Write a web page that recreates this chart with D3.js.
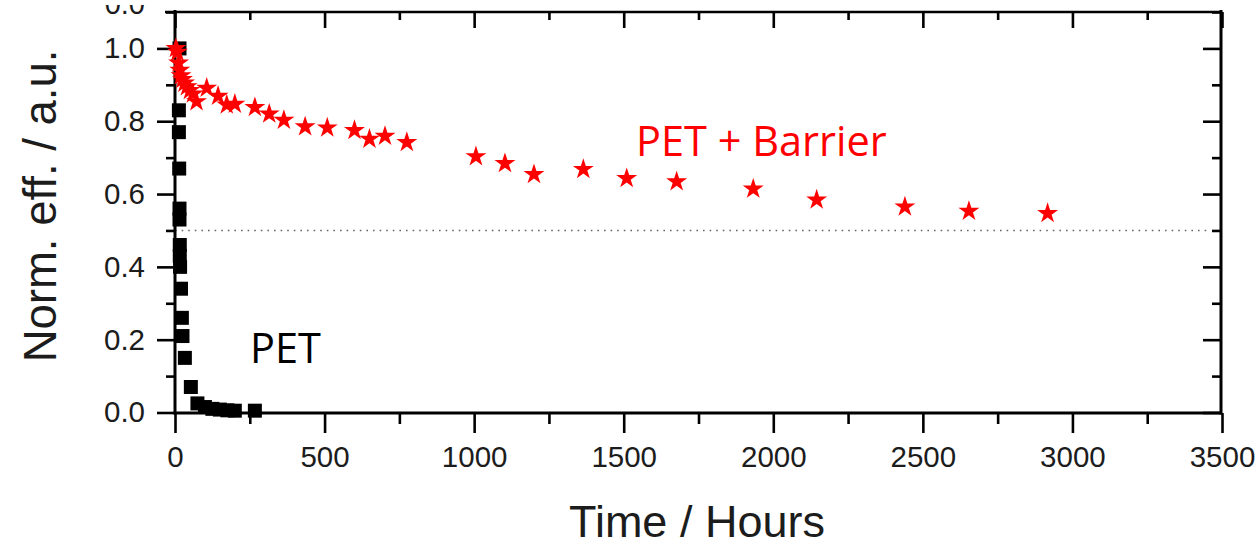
<!DOCTYPE html>
<html>
<head>
<meta charset="utf-8">
<script src="https://cdn.jsdelivr.net/npm/d3@7"></script>
<style>
  html, body { margin: 0; padding: 0; background: #fff; }
  svg { display: block; }
  .tick text { font-family: "Liberation Sans", Arial, sans-serif; }
</style>
</head>
<body>
<svg id="chart" width="1259" height="548"></svg>
<script>
// Normalised efficiency over time, bare PET vs PET with barrier layer
const petHours = [15, 13, 13, 14, 15, 15, 16, 16, 17, 20, 23, 25, 33, 53, 75, 100, 125, 150, 175, 200, 267];
const petEff   = [1.0, 0.83, 0.77, 0.67, 0.56, 0.53, 0.46, 0.43, 0.40, 0.34, 0.26, 0.21, 0.15, 0.07, 0.025, 0.015, 0.01, 0.008, 0.006, 0.005, 0.005];

const barrierHours = [3, 8, 12, 16, 20, 25, 32, 40, 50, 60, 72, 106, 144, 173, 200, 267, 315, 364, 435, 509, 600, 650, 702, 775,
                      1006, 1103, 1200, 1365, 1510, 1677, 1933, 2145, 2440, 2654, 2917];
const barrierEff   = [1.0, 0.99, 0.96, 0.94, 0.925, 0.915, 0.905, 0.895, 0.885, 0.875, 0.854, 0.891, 0.869, 0.845, 0.847, 0.838, 0.82, 0.803, 0.785, 0.782, 0.775, 0.751, 0.759, 0.742,
                      0.703, 0.684, 0.654, 0.668, 0.643, 0.634, 0.614, 0.584, 0.565, 0.553, 0.547];

const xMajor = [0, 500, 1000, 1500, 2000, 2500, 3000, 3500];
const xMinor = [250, 750, 1250, 1750, 2250, 2750, 3250];
const yMajor = [0.0, 0.2, 0.4, 0.6, 0.8, 1.0];
const yMinor = [0.1, 0.3, 0.5, 0.7, 0.9, 1.1];
const halfLevel = 0.5;

const svg = d3.select("#chart");
const plotLeft = 175, plotRight = 1222, plotTop = 12, plotBottom = 412.5;

const x = d3.scaleLinear().domain([0, 3500]).range([plotLeft, plotRight]);
const y = d3.scaleLinear().domain([0, 1.1]).range([plotBottom, plotTop]);

const axisColor = "#000";
const labelColor = "#1c1c1c";

// tick label of the panel stacked above, mostly cut off
svg.append("clipPath").attr("id", "topClip")
  .append("rect").attr("x", 0).attr("y", 5).attr("width", 200).attr("height", 20);
svg.append("text")
  .attr("clip-path", "url(#topClip)")
  .attr("x", 145).attr("y", 14)
  .attr("text-anchor", "end")
  .attr("font-family", "Liberation Sans, Arial, sans-serif")
  .attr("font-size", 29).attr("fill", labelColor)
  .text("0.0");

// 50% reference line
svg.append("line")
  .attr("x1", x(0)).attr("x2", x(3450))
  .attr("y1", y(halfLevel)).attr("y2", y(halfLevel))
  .attr("stroke", "#666").attr("stroke-width", 1.6)
  .attr("stroke-dasharray", "1.6,5");

function styleAxis(g, showLabels) {
  g.select(".domain").remove();
  g.selectAll(".tick line").attr("stroke", axisColor).attr("stroke-width", 2.6);
  g.selectAll(".tick text")
    .attr("fill", labelColor)
    .attr("font-size", 29.5);
  if (!showLabels) g.selectAll(".tick text").remove();
}

// bottom axis
svg.append("g").attr("transform", `translate(0,${plotBottom + 0.5})`)
  .call(d3.axisBottom(x).tickValues(xMajor).tickSize(20).tickPadding(13).tickFormat(d3.format("d")))
  .call(g => styleAxis(g, true));
svg.append("g").attr("transform", `translate(0,${plotBottom + 0.5})`)
  .call(d3.axisBottom(x).tickValues(xMinor).tickSize(11))
  .call(g => styleAxis(g, false));

// top axis (ticks inward)
svg.append("g").attr("transform", `translate(0,${plotTop})`)
  .call(d3.axisBottom(x).tickValues(xMajor).tickSize(16))
  .call(g => styleAxis(g, false));
svg.append("g").attr("transform", `translate(0,${plotTop})`)
  .call(d3.axisBottom(x).tickValues(xMinor).tickSize(8))
  .call(g => styleAxis(g, false));

// left axis
svg.append("g").attr("transform", `translate(${plotLeft},0)`)
  .call(d3.axisLeft(y).tickValues(yMajor).tickSize(18).tickPadding(12).tickFormat(d3.format(".1f")))
  .call(g => styleAxis(g, true));
svg.append("g").attr("transform", `translate(${plotLeft},0)`)
  .call(d3.axisLeft(y).tickValues(yMinor).tickSize(9))
  .call(g => styleAxis(g, false));

// right axis (ticks inward)
svg.append("g").attr("transform", `translate(${plotRight - 1},0)`)
  .call(d3.axisLeft(y).tickValues(yMajor).tickSize(18))
  .call(g => styleAxis(g, false));
svg.append("g").attr("transform", `translate(${plotRight - 1},0)`)
  .call(d3.axisLeft(y).tickValues(yMinor).tickSize(9))
  .call(g => styleAxis(g, false));

// frame
const frame = svg.append("g").attr("stroke", axisColor).attr("stroke-width", 3).attr("fill", "none");
frame.append("line").attr("x1", plotLeft).attr("x2", plotLeft).attr("y1", plotTop - 2).attr("y2", plotBottom + 2);
frame.append("line").attr("x1", plotLeft - 1.5).attr("x2", plotRight).attr("y1", plotBottom + 0.5).attr("y2", plotBottom + 0.5);
frame.append("line").attr("x1", plotRight - 1).attr("x2", plotRight - 1).attr("y1", plotTop - 2).attr("y2", plotBottom + 2);
frame.append("line").attr("x1", plotLeft - 10).attr("x2", plotRight).attr("y1", plotTop).attr("y2", plotTop).attr("stroke-width", 2.4);

// PET (squares)
const square = d3.symbol().type(d3.symbolSquare).size(196);
svg.append("g").selectAll("path")
  .data(petHours.map((t, i) => [t, petEff[i]]))
  .join("path")
  .attr("transform", d => `translate(${x(d[0])},${y(d[1])})`)
  .attr("d", square)
  .attr("fill", "#000");

// PET + barrier (stars)
const star = d3.symbol().type(d3.symbolStar).size(136);
svg.append("g").selectAll("path")
  .data(barrierHours.map((t, i) => [t, barrierEff[i]]))
  .join("path")
  .attr("transform", d => `translate(${x(d[0])},${y(d[1])})`)
  .attr("d", star)
  .attr("fill", "#ff0000");

// axis titles
svg.append("text")
  .attr("x", 697).attr("y", 537)
  .attr("text-anchor", "middle")
  .attr("font-family", "Liberation Sans, Arial, sans-serif")
  .attr("font-size", 45).attr("fill", labelColor)
  .text("Time / Hours");
svg.append("text")
  .attr("transform", "translate(56,206) rotate(-90)")
  .attr("text-anchor", "middle")
  .attr("font-family", "Liberation Sans, Arial, sans-serif")
  .attr("font-size", 45.5).attr("fill", labelColor)
  .text("Norm. eff. / a.u.");

// series labels
svg.append("text")
  .attr("x", 250).attr("y", 363)
  .attr("font-family", "Open Sans, Noto Sans, sans-serif")
  .attr("font-size", 41.5).attr("fill", "#000")
  .text("PET");
svg.append("text")
  .attr("x", 636).attr("y", 156)
  .attr("font-family", "Open Sans, Noto Sans, sans-serif")
  .attr("font-size", 41.5).attr("fill", "#ff0000")
  .text("PET + Barrier");
</script>
</body>
</html>
